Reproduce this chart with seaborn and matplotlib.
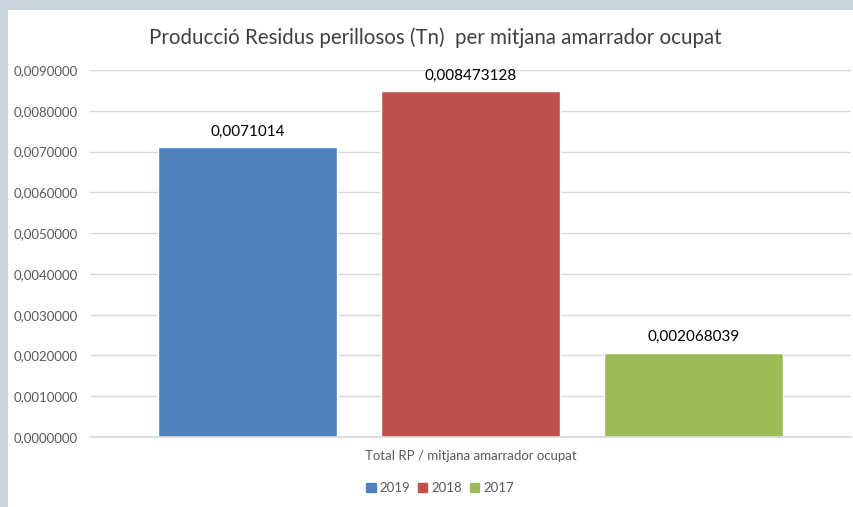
import matplotlib
matplotlib.use("Agg")
import matplotlib.pyplot as plt
import matplotlib.patches as mpatches
from matplotlib.ticker import FuncFormatter
import seaborn as sns
import pandas as pd

category = ["Total RP / mitjana amarrador ocupat"]
years = ["2019", "2018", "2017"]
values = [0.0071014, 0.008473128, 0.002068039]
value_labels = ["0,0071014", "0,008473128", "0,002068039"]
colors = ["#4f81bd", "#c0504d", "#9bbb59"]
yticks = [i * 0.001 for i in range(10)]

df = pd.DataFrame({"cat": category * 3, "year": years, "value": values})

sns.set_theme(style="white")
plt.rcParams['font.family'] = ['Lato', 'DejaVu Sans']

fig = plt.figure(figsize=(8.54, 5.07), dpi=100)
fig.patch.set_facecolor("#c9d3dc")
fig.patches.append(mpatches.Rectangle((8/854, 0), 1, (507-10)/507, transform=fig.transFigure,
                                      facecolor="white", edgecolor="none", zorder=-10))

ax = fig.add_axes([90/854, 1 - 437/507, (851-90)/854, (437-70)/507])
ax.set_facecolor("none")
sns.barplot(data=df, x="cat", y="value", hue="year", palette=colors, width=0.88, gap=0.2,
            ax=ax, legend=False, saturation=1)

for cont, lab in zip(ax.containers, value_labels):
    ax.bar_label(cont, labels=[lab], padding=6, fontsize=11, color="#000000")

ax.set_ylim(0, 0.009)
ax.set_xlim(-0.5, 0.5)
ax.set_yticks(yticks)
ax.yaxis.set_major_formatter(FuncFormatter(lambda v, p: f"{v:.7f}".replace(".", ",")))
ax.tick_params(axis="y", labelsize=9.5, colors="#595959", length=0, pad=8.5)
ax.tick_params(axis="x", labelsize=9.5, colors="#595959", length=0, pad=9)
ax.grid(axis="y", color="#d9d9d9", linewidth=1)
ax.set_axisbelow(True)
for s in ["top", "right", "left"]:
    ax.spines[s].set_visible(False)
ax.spines["bottom"].set_color("#d9d9d9")
ax.set_xlabel("")
ax.set_ylabel("")

fig.text(435/854, 1 - 38/507, "Producció Residus perillosos (Tn)  per mitjana amarrador ocupat",
         ha="center", va="center", fontsize=14.8, color="#404040")

handles = [mpatches.Patch(color=c, label=y) for c, y in zip(colors, years)]
fig.legend(handles=handles, loc="center", bbox_to_anchor=(440/854, 1 - 488/507), ncol=3,
           frameon=False, fontsize=9.5, handlelength=0.7, handleheight=0.7, handletextpad=0.3,
           columnspacing=0.6, labelcolor="#595959")

fig.savefig("out.png", dpi=100)
